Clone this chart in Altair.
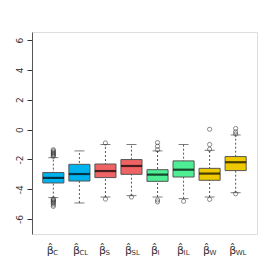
import altair as alt
import pandas as pd

cats = ["C", "CL", "S", "SL", "I", "IL", "W", "WL"]
colors = ["#00B2EE", "#00B2EE", "#EE6363", "#EE6363", "#4EEE94", "#4EEE94", "#EEC900", "#EEC900"]
lo_whisk = [-4.56, -4.92, -4.52, -4.43, -4.52, -4.63, -4.52, -4.23]
q1 = [-3.58, -3.45, -3.22, -3.00, -3.47, -3.18, -3.40, -2.75]
med = [-3.24, -2.98, -2.78, -2.44, -3.02, -2.69, -2.95, -2.19]
q3 = [-2.88, -2.33, -2.31, -2.01, -2.69, -2.10, -2.60, -1.81]
hi_whisk = [-1.88, -1.43, -1.00, -1.00, -1.43, -1.00, -1.39, -0.36]
y_ticks = [-6, -4, -2, 0, 2, 4, 6]
outliers = {
    "C": [-1.35, -1.42, -1.5, -1.56, -1.62, -1.68, -1.74, -1.8,
          -4.65, -4.7, -4.76, -4.82, -4.88, -4.95, -5.05, -5.15],
    "CL": [],
    "S": [-0.9, -4.66],
    "SL": [-4.52],
    "I": [-0.87, -1.12, -1.35, -4.72, -4.85],
    "IL": [-4.81],
    "W": [0.02, -1.0, -1.32, -4.68],
    "WL": [0.07, -0.16, -0.3, -4.3],
}

box_df = pd.DataFrame({"cat": cats, "color": colors, "lo": lo_whisk, "q1": q1,
                       "med": med, "q3": q3, "hi": hi_whisk})
out_df = pd.DataFrame([{"cat": c, "v": v} for c in cats for v in outliers[c]])

xs = alt.X("cat:N", sort=cats, axis=None,
           scale=alt.Scale(paddingInner=0.19, paddingOuter=0.415))
yscale = alt.Scale(domain=[-7.0, 6.54], nice=False, zero=False)
yaxis = alt.Axis(values=y_ticks, grid=False, title=None,
                 tickSize=5, tickColor="#333", domainColor="#555",
                 labelAngle=270, labelAlign="center", labelBaseline="bottom",
                 labelPadding=3, labelFontSize=9, labelColor="#333",
                 labelFont="DejaVu Sans", labelOverlap=False, labelFlush=False,
                 labelExpr="replace(datum.label, '−', '-')")


def Y(field):
    return alt.Y(field, scale=yscale, axis=yaxis)


base = alt.Chart(box_df)

whisk = base.mark_rule(color="#444", strokeDash=[2, 2], strokeWidth=0.9).encode(
    x=xs, y=Y("lo:Q"), y2="hi:Q")
box = base.mark_bar(stroke="#555", strokeWidth=1).encode(
    x=xs, y=Y("q1:Q"), y2="q3:Q",
    color=alt.Color("color:N", scale=None))
medt = base.mark_tick(color="black", size=21, thickness=2.2, orient="horizontal").encode(
    x=xs, y=Y("med:Q"))
capl = base.mark_tick(color="#444", size=10, thickness=1, orient="horizontal").encode(
    x=xs, y=Y("lo:Q"))
caph = base.mark_tick(color="#444", size=10, thickness=1, orient="horizontal").encode(
    x=xs, y=Y("hi:Q"))
pts = alt.Chart(out_df).mark_point(shape="circle", filled=False, size=18,
                                   color="#333", strokeWidth=0.8).encode(
    x=xs, y=Y("v:Q"))
beta = base.mark_text(text="β̂", fontSize=11, font="DejaVu Sans", color="#333",
                      dx=-3, baseline="alphabetic", clip=False).encode(
    x=xs, y=alt.value(222))
sub = base.mark_text(fontSize=7, font="DejaVu Sans", color="#333", align="left",
                     dx=0, baseline="alphabetic", clip=False).encode(
    x=xs, y=alt.value(223), text="cat:N")

chart = alt.layer(whisk, box, medt, capl, caph, pts, beta, sub).properties(
    width=225, height=202,
    autosize=alt.AutoSizeParams(type="none"),
    padding={"left": 24, "top": 24, "right": 9, "bottom": 32},
).configure_view(stroke="#555", strokeWidth=1).configure(background="white")

chart.save("out.html", embed_options={"renderer": "svg", "actions": False})
